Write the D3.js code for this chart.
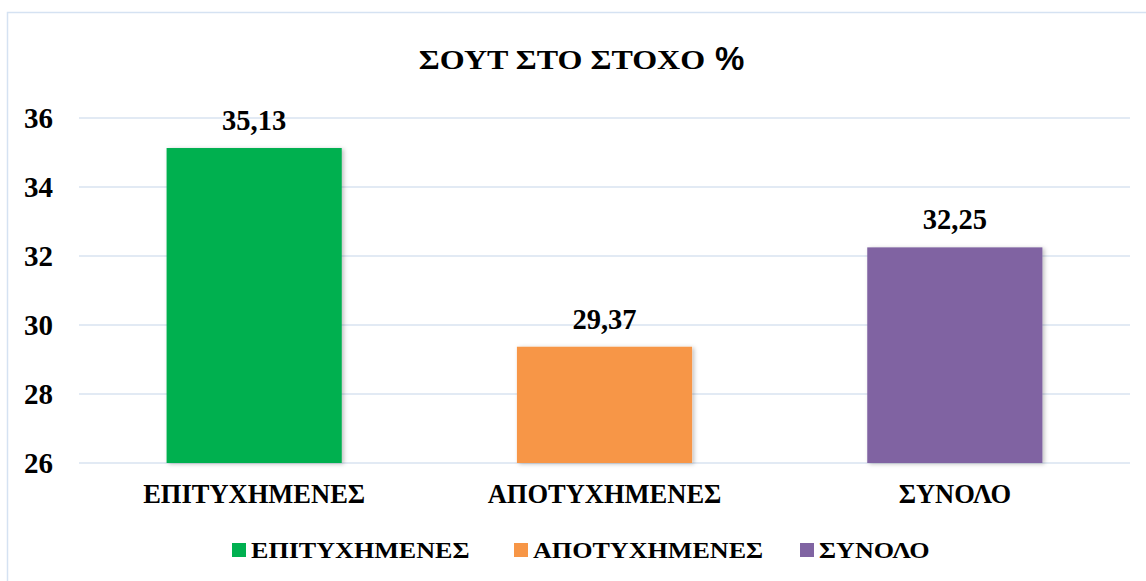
<!DOCTYPE html>
<html>
<head>
<meta charset="utf-8">
<script src="https://cdn.jsdelivr.net/npm/d3@7"></script>
<style>
  body { margin: 0; background: #fff; }
  text { font-family: "Liberation Serif", "Times New Roman", serif; font-weight: bold; fill: #000; }
</style>
</head>
<body>
<div id="chart"></div>
<script>
var categories = ["ΕΠΙΤΥΧΗΜΕΝΕΣ", "ΑΠΟΤΥΧΗΜΕΝΕΣ", "ΣΥΝΟΛΟ"];
var values = [35.13, 29.37, 32.25];
var labels = ["35,13", "29,37", "32,25"];
var colors = ["#00B050", "#F79646", "#8064A2"];
var yTicks = [26, 28, 30, 32, 34, 36];

var W = 1146, H = 581;
var margin = { top: 118, right: 16, bottom: 118, left: 79 };
var width = W - margin.left - margin.right;
var height = H - margin.top - margin.bottom;

var svg = d3.select("#chart").append("svg")
  .attr("width", W)
  .attr("height", H);

var defs = svg.append("defs");
var f = defs.append("filter").attr("id", "shadow").attr("x", "-10%").attr("y", "-10%").attr("width", "130%").attr("height", "130%");
f.append("feDropShadow").attr("dx", 2).attr("dy", 1).attr("stdDeviation", 2).attr("flood-color", "#000").attr("flood-opacity", 0.25);

// chart border
svg.append("rect")
  .attr("x", 7.5).attr("y", 12.5)
  .attr("width", W + 10).attr("height", H + 10)
  .attr("fill", "none")
  .attr("stroke", "#D5E2F2")
  .attr("stroke-width", 1.5);

// title (greek part is wider in the original font)
svg.append("text")
  .attr("transform", "translate(562,69) scale(1.2,1)")
  .attr("text-anchor", "middle")
  .style("font-size", "26.7px")
  .text("ΣΟΥΤ ΣΤΟ ΣΤΟΧΟ");
svg.append("text")
  .attr("x", 715).attr("y", 70)
  .style("font-family", "'Liberation Sans', Arial, sans-serif")
  .style("font-size", "33px")
  .text("%");

var g = svg.append("g").attr("transform", "translate(" + margin.left + "," + margin.top + ")");

var x = d3.scaleBand().domain(categories).range([0, width]).paddingInner(0.5).paddingOuter(0.25);
var y = d3.scaleLinear().domain([26, 36]).range([height, 0]);

g.selectAll(".grid").data(yTicks).enter().append("line")
  .attr("class", "grid")
  .attr("x1", 0).attr("x2", width)
  .attr("y1", function(d) { return y(d); })
  .attr("y2", function(d) { return y(d); })
  .attr("stroke", "#D9E3F1")
  .attr("stroke-width", 1.5);

var yAxis = d3.axisLeft(y).tickValues(yTicks).tickSize(0).tickPadding(26);
var yAxisG = g.append("g").call(yAxis);
yAxisG.select(".domain").remove();
yAxisG.selectAll("text").style("font-size", "29px").style("font-family", "'Liberation Serif', serif");

g.selectAll(".bar").data(values).enter().append("rect")
  .attr("class", "bar")
  .attr("x", function(d, i) { return x(categories[i]); })
  .attr("width", x.bandwidth())
  .attr("y", function(d) { return y(d); })
  .attr("height", function(d) { return height - y(d); })
  .attr("fill", function(d, i) { return colors[i]; })
  .attr("filter", "url(#shadow)");

g.selectAll(".val").data(values).enter().append("text")
  .attr("class", "val")
  .attr("x", function(d, i) { return x(categories[i]) + x.bandwidth() / 2; })
  .attr("y", function(d) { return y(d) - 18; })
  .attr("text-anchor", "middle")
  .style("font-size", "28.5px")
  .text(function(d, i) { return labels[i]; });

var xAxis = d3.axisBottom(x).tickSize(0).tickPadding(21);
var xAxisG = g.append("g").attr("transform", "translate(0," + height + ")").call(xAxis);
xAxisG.select(".domain").remove();
xAxisG.selectAll("text").style("font-size", "26.5px").style("font-family", "'Liberation Serif', serif");

// legend
var legendX = [232, 514, 800];
var legend = svg.append("g").selectAll("g").data(categories).enter().append("g")
  .attr("transform", function(d, i) { return "translate(" + legendX[i] + ",550)"; });
legend.append("rect")
  .attr("x", 0).attr("y", -7)
  .attr("width", 14).attr("height", 14)
  .attr("fill", function(d, i) { return colors[i]; });
legend.append("text")
  .attr("transform", "translate(19,7.5) scale(1.16,1)")
  .style("font-size", "22.5px")
  .text(function(d) { return d; });
</script>
</body>
</html>
